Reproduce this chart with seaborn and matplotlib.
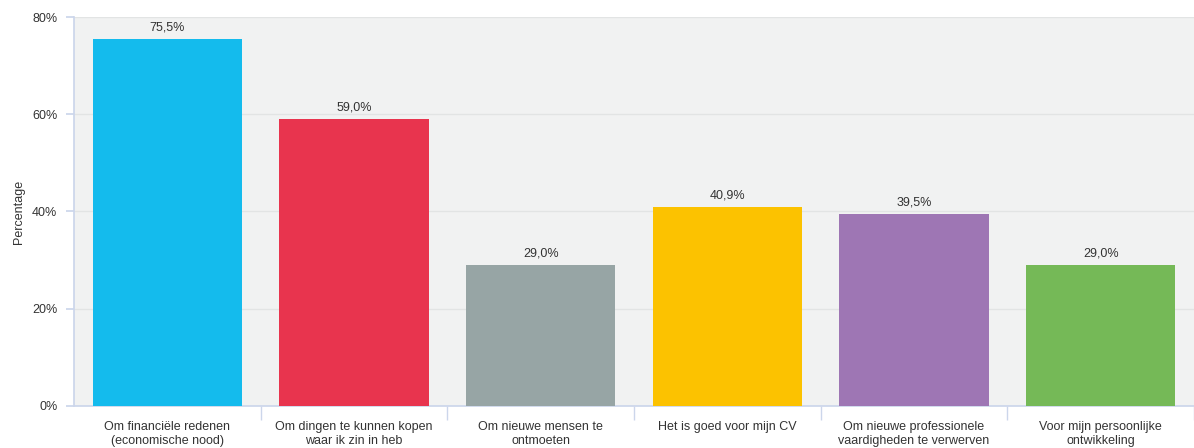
import numpy as np
import pandas as pd
import seaborn as sns
import matplotlib.pyplot as plt
from matplotlib.ticker import FuncFormatter

# Data
categories = [
    "Om financiële redenen\n(economische nood)",
    "Om dingen te kunnen kopen\nwaar ik zin in heb",
    "Om nieuwe mensen te\nontmoeten",
    "Het is goed voor mijn CV",
    "Om nieuwe professionele\nvaardigheden te verwerven",
    "Voor mijn persoonlijke\nontwikkeling",
]
values = [75.5, 59.0, 29.0, 40.9, 39.5, 29.0]
colors = ["#14bbed", "#e8344e", "#97a5a5", "#fcc200", "#9e76b4", "#75b957"]

df = pd.DataFrame({"reden": categories, "pct": values})

sns.set_theme(style="white")
plt.rcParams['font.family'] = ['Liberation Sans', 'DejaVu Sans']

fig = plt.figure(figsize=(11.94, 4.48), dpi=100)
ax = fig.add_axes([0.062, 0.094, 0.938, 0.868])
ax.set_facecolor("#f1f2f2")

sns.barplot(data=df, x="reden", y="pct", hue="reden", palette=colors,
            legend=False, width=0.8, saturation=1, linewidth=0, ax=ax, zorder=3)

ax.set_ylim(0, 80)
ax.set_xlim(-0.5, len(categories) - 0.5)
ax.set_yticks([0, 20, 40, 60, 80])
ax.yaxis.set_major_formatter(FuncFormatter(lambda v, p: f"{v:.0f}%"))
ax.grid(axis="y", color="#e2e4e4", linewidth=1, zorder=0)
ax.set_axisbelow(True)

# value labels
for i, v in enumerate(values):
    ax.text(i, v + 1.2, f"{v:.1f}%".replace(".", ","), ha="center", va="bottom",
            fontsize=9, color="#333333")

for s in ["top", "right"]:
    ax.spines[s].set_visible(False)
ax.spines["left"].set_color("#ccd6eb")
ax.spines["bottom"].set_color("#ccd6eb")

ax.tick_params(axis="y", left=True, length=6, color="#ccd6eb", labelsize=9,
               labelcolor="#333333", pad=6)
ax.set_xticks(np.arange(len(categories)))
ax.set_xticklabels(categories, fontsize=9, color="#333333")
ax.tick_params(axis="x", bottom=False, pad=5)
# category separator ticks
ax.set_xticks(np.arange(len(categories)) + 0.5, minor=True)
ax.tick_params(axis="x", which="minor", bottom=True, length=10, color="#ccd6eb")

ax.set_xlabel("")
ax.set_ylabel("Percentage", fontsize=9, color="#333333", labelpad=5)

fig.savefig("out.png", dpi=100)
